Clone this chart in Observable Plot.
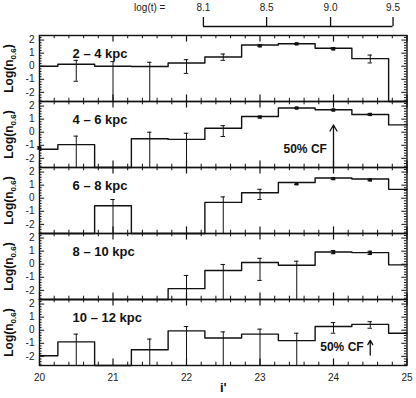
<!DOCTYPE html>
<html><head><meta charset="utf-8">
<script src="https://cdn.jsdelivr.net/npm/d3@7"></script>
<script src="https://cdn.jsdelivr.net/npm/@observablehq/plot@0.6"></script>
<style>
body{margin:0;background:#fff}
#chart svg{display:block}
</style>
</head><body><div id="chart"></div>
<script>
// ---------- data ----------
const centers = [20, 20.5, 21, 21.5, 22, 22.5, 23, 23.5, 24, 24.5, 25];
const panels = ["2 – 4 kpc", "4 – 6 kpc", "6 – 8 kpc", "8 – 10 kpc", "10 – 12 kpc"];
// histogram level per bin (null = empty bin, drawn at the floor)
const logN = [
  [0.0, 0.15, 0.0, -0.02, 0.25, 0.7, 1.62, 1.72, 1.37, 0.58, null],
  [-1.3, -0.95, null, -0.5, -0.55, 0.3, 1.2, 1.85, 1.72, 1.36, 0.56],
  [null, null, -0.58, null, null, -0.32, 0.42, 1.2, 1.55, 1.47, 0.68],
  [null, null, null, null, -1.87, -0.48, 0.13, -0.08, 0.94, 0.89, -0.05],
  [-1.95, -0.89, null, -1.5, -0.05, -0.6, -0.3, -0.8, 0.28, 0.45, -0.23]
];
// error bar tops (null = no bar)
const errHi = [
  [null, 0.45, 0.35, 0.3, 0.5, 0.93, 1.62, 1.76, 1.42, 0.85, null],
  [-1.12, -0.3, null, 0.0, -0.08, 0.5, 1.22, 1.9, 1.76, 1.42, null],
  [null, null, -0.1, null, null, 0.1, 0.68, 1.18, 1.56, 1.46, null],
  [null, null, null, null, -0.86, -0.02, 0.45, 0.23, 1.05, 1.0, null],
  [null, -0.3, null, -0.68, 0.28, -0.13, 0.08, -0.23, 0.58, 0.65, null]
];
// error bar bottoms (null = bar runs down to the floor)
const errLo = [
  [null, -1.15, null, null, -0.55, 0.45, 1.5, 1.66, 1.26, 0.25, null],
  [-1.28, null, null, null, null, -0.33, 1.1, 1.8, 1.64, 1.3, null],
  [null, null, null, null, null, null, -0.1, 1.04, 1.44, 1.34, null],
  [null, null, null, null, null, null, -1.24, null, 0.8, 0.74, null],
  [null, null, null, null, null, null, null, null, -0.23, 0.15, null]
];
// filled points
const dotY = [
  [null, null, null, null, null, null, 1.56, 1.71, 1.33, null, null],
  [-1.2, null, null, null, null, null, 1.16, 1.85, 1.7, 1.36, null],
  [null, null, null, null, null, null, null, 1.11, 1.5, 1.4, null],
  [null, null, null, null, null, null, null, null, 0.92, 0.87, null],
  [null, null, null, null, null, null, null, null, null, null, null]
];
const cfArrowAt = [null, 24, null, null, 24.5];
const cfArrowFrom = [null, -2.7, null, null, -1.9];
const cfArrowTo = [null, 0.55, null, null, -0.78];
const cfText = "50% CF";
const cfTextY = -1.3;
const panelLabelX = 20.45, panelLabelY = 0.95;
const logtTitle = "log(t) =", logtTitleAt = 21.5;
const logtLabels = ["8.1", "8.5", "9.0", "9.5"];
const logtAt = [22.23, 23.09, 23.96, 24.81];
const xTicks = [20, 21, 22, 23, 24, 25];
const yTicks = [-2, -1, 0, 1, 2];
const xLabel = "i'";
const yLabel = "Log(n0.6)";

// ---------- build ----------
const Y0 = -2.7, Y1 = 2.35;
const rows = [];
panels.forEach((p, j) => centers.forEach((c, i) => rows.push({
  panel: p, x: c,
  v: logN[j][i] ?? Y0,
  hi: errHi[j][i], loRaw: errLo[j][i], lo: errLo[j][i] ?? Y0,
  dot: dotY[j][i],
  first: i === 0, last: j === panels.length - 1 && i === 0,
  cfAt: i === 0 ? cfArrowAt[j] : null,
  cfFrom: cfArrowFrom[j], cfTo: cfArrowTo[j]
})));

const xMinor = d3.range(20, 25.001, 0.2).filter(t => Math.abs(t - Math.round(t)) > 1e-6);
const yMinor = d3.range(-2.6, 2.35, 0.2).filter(t => Math.abs(t - Math.round(t)) > 1e-6);
const ink = "#111";
const font = "'Liberation Sans', Arial, Helvetica, sans-serif";

const topAxis = Plot.plot({
  width: 416, height: 32,
  marginLeft: 39, marginRight: 9.5, marginTop: 17, marginBottom: 6,
  style: {fontFamily: font, fontSize: "10px", background: "white", color: "#222"},
  x: {domain: [20, 25], axis: null},
  y: {domain: [0, 1], axis: null},
  marks: [
    Plot.ruleY([0], {x1: logtAt[0], x2: logtAt[logtAt.length - 1], stroke: ink, strokeWidth: 1.3}),
    Plot.ruleX(logtAt, {x: d => d, y1: 0, y2: 1, stroke: ink, strokeWidth: 1.3}),
    Plot.text(logtLabels, {x: (d, i) => logtAt[i], y: 1, dy: -10, text: d => d, fontSize: 10}),
    Plot.text([logtTitle], {x: logtTitleAt, y: 1, dy: -10, text: d => d, fontSize: 10})
  ]
});

const mainChart = Plot.plot({
  width: 416, height: 366,
  marginLeft: 39, marginRight: 9.5, marginTop: 1.5, marginBottom: 32,
  style: {fontFamily: font, fontSize: "10px", background: "white", color: "#222"},
  facet: {data: rows, y: "panel"},
  fy: {domain: panels, padding: 0, axis: null},
  x: {domain: [20, 25], ticks: xTicks, tickSize: 0, tickPadding: 8, tickFormat: d => String(d), label: null},
  y: {domain: [Y0, Y1], ticks: yTicks, tickSize: 0, tickPadding: 5, tickFormat: d => String(d), label: null},
  marks: [
    Plot.ruleX(xMinor, {x: d => d, y1: Y1, y2: Y1 - 0.25, stroke: ink}),
    Plot.ruleX(xMinor, {x: d => d, y1: Y0, y2: Y0 + 0.25, stroke: ink}),
    Plot.ruleX(xTicks, {x: d => d, y1: Y1, y2: Y1 - 0.5, stroke: ink, strokeWidth: 1.2}),
    Plot.ruleX(xTicks, {x: d => d, y1: Y0, y2: Y0 + 0.5, stroke: ink, strokeWidth: 1.2}),
    Plot.ruleY(yMinor, {y: d => d, x1: 20, x2: 20.035, stroke: ink}),
    Plot.ruleY(yMinor, {y: d => d, x1: 25, x2: 24.965, stroke: ink}),
    Plot.ruleY(yTicks, {y: d => d, x1: 20, x2: 20.07, stroke: ink}),
    Plot.ruleY(yTicks, {y: d => d, x1: 25, x2: 24.93, stroke: ink}),
    Plot.line(rows, {x: "x", y: "v", curve: "step", stroke: ink, strokeWidth: 1.4}),
    Plot.ruleX(rows, {filter: d => d.hi != null, x: "x", y1: "lo", y2: "hi", stroke: ink, strokeWidth: 1}),
    Plot.ruleY(rows, {filter: d => d.hi != null, y: "hi", x1: d => d.x - 0.03, x2: d => d.x + 0.03, stroke: ink, strokeWidth: 1}),
    Plot.ruleY(rows, {filter: d => d.hi != null && d.loRaw != null, y: "lo", x1: d => d.x - 0.03, x2: d => d.x + 0.03, stroke: ink, strokeWidth: 1}),
    Plot.dot(rows, {filter: d => d.dot != null, x: "x", y: "dot", symbol: "square", r: 1.9, fill: ink, stroke: "none"}),
    Plot.arrow(rows, {filter: d => d.cfAt != null, x1: "cfAt", x2: "cfAt", y1: "cfFrom", y2: "cfTo", stroke: ink, strokeWidth: 1.3, headLength: 8}),
    Plot.text(rows, {filter: d => d.cfAt != null, x: d => d.cfAt - 0.09, y: () => cfTextY, text: () => cfText, textAnchor: "end", fontSize: 12, fontWeight: "bold", fill: ink}),
    Plot.text(rows, {filter: d => d.first, x: () => panelLabelX, y: () => panelLabelY, text: "panel", textAnchor: "start", fontSize: 13, fontWeight: "bold", fill: ink}),
    Plot.text(rows, {filter: d => d.first, x: () => 20, y: () => (Y0 + Y1) / 2, dx: -30, rotate: -90, text: () => yLabel, fontSize: 12, fontWeight: "bold", fill: ink, className: "ylab"}),
    Plot.text(rows, {filter: d => d.last, frameAnchor: "bottom", x: () => 22.5, dy: 26, text: () => xLabel, fontSize: 13, fontWeight: "bold", fill: ink}),
    Plot.frame({stroke: ink, strokeWidth: 1.4})
  ]
});

d3.select(mainChart).selectAll("text").filter(function() { return this.textContent === yLabel; }).each(function() {
  const t = d3.select(this);
  t.text(null);
  t.append("tspan").text("Log(n");
  t.append("tspan").attr("dy", "0.35em").attr("font-size", "8px").text("0.6");
  t.append("tspan").attr("dy", "-0.35em").text(")");
});

const el = document.getElementById("chart");
el.append(topAxis);
el.append(mainChart);
</script>
</body></html>
